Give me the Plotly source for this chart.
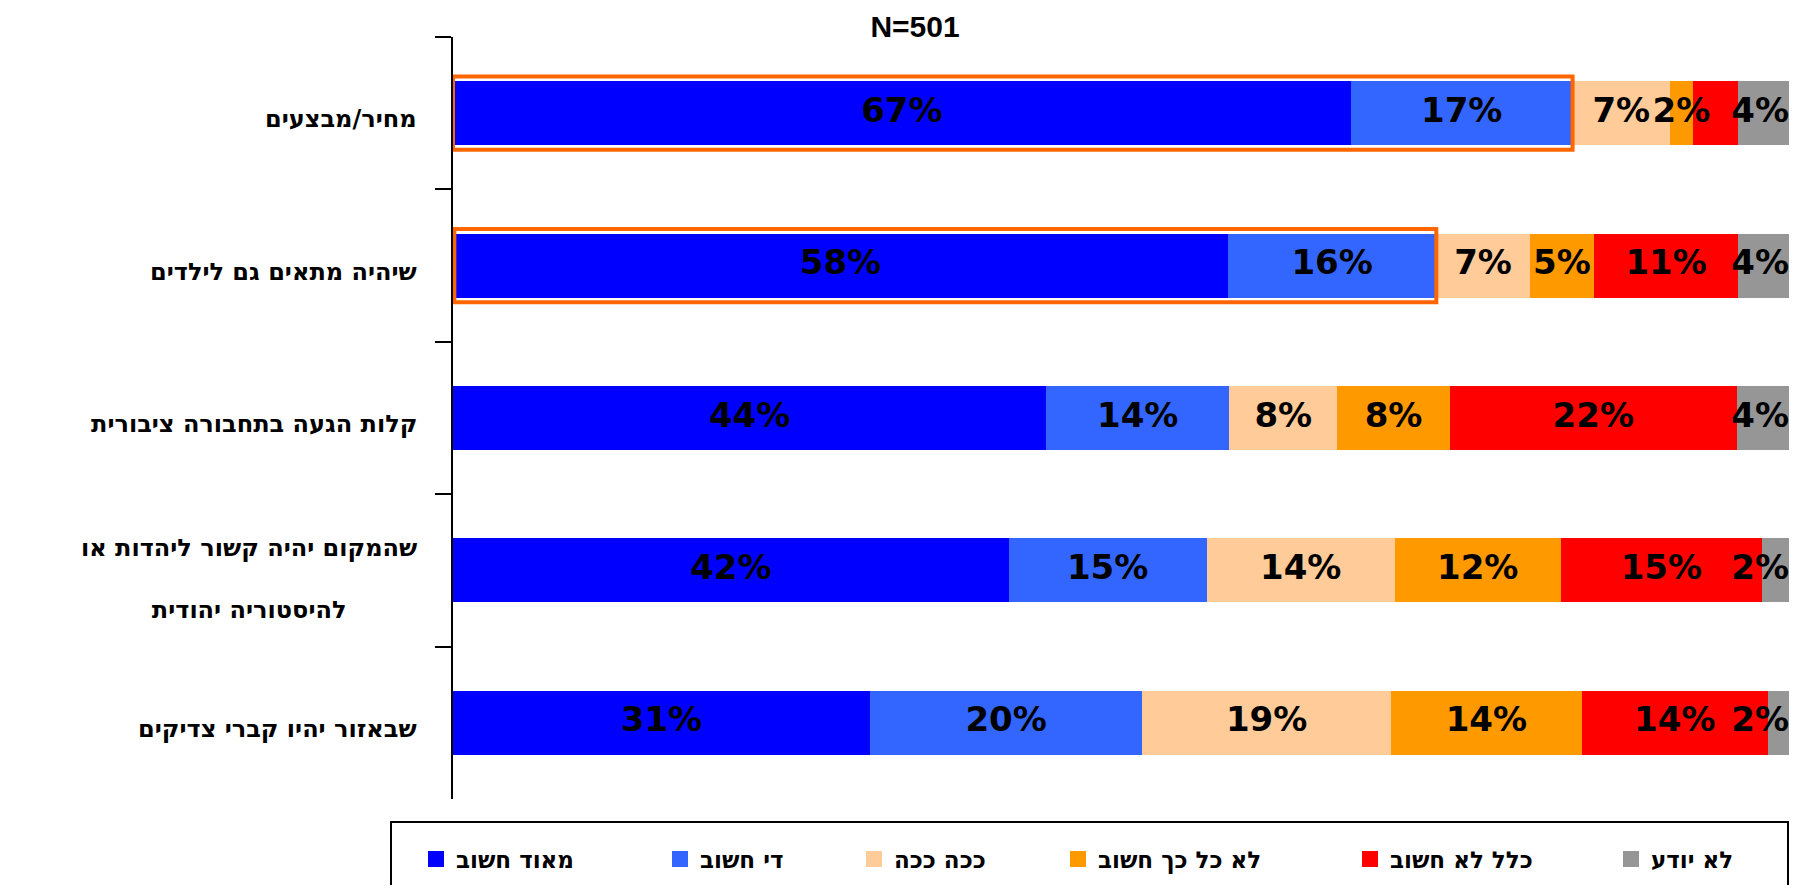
import plotly.graph_objects as go

# ---- data ----
categories = [
    "מחיר/מבצעים",
    "שיהיה מתאים גם לילדים",
    "קלות הגעה בתחבורה ציבורית",
    "שהמקום יהיה קשור ליהדות או להיסטוריה יהודית",
    "שבאזור יהיו קברי צדיקים",
]
category_labels = [
    "מחיר/מבצעים",
    "שיהיה מתאים גם לילדים",
    "קלות הגעה בתחבורה ציבורית",
    "שהמקום יהיה קשור ליהדות או<br><br>להיסטוריה יהודית",
    "שבאזור יהיו קברי צדיקים",
]
series_names = ["מאוד חשוב", "די חשוב", "ככה ככה", "לא כל כך חשוב", "כלל לא חשוב", "לא יודע"]
very_important = [67.2, 58.0, 44.4, 41.6, 31.2]
fairly_important = [16.6, 15.6, 13.7, 14.8, 20.4]
so_so = [7.3, 7.0, 8.1, 14.1, 18.6]
not_so_important = [1.7, 4.8, 8.4, 12.4, 14.3]
not_important_at_all = [3.4, 10.8, 21.5, 15.1, 13.9]
dont_know = [3.8, 3.8, 3.9, 2.0, 1.6]
series_values = [very_important, fairly_important, so_so, not_so_important,
                 not_important_at_all, dont_know]
hidden_labels = {(4, 0)}          # (series index, category index) label not shown
highlighted_rows = [0, 1]         # rows framed in orange (first two series)
title_text = "N=501"

# ---- style ----
colors = ["#0000FF", "#3366FF", "#FFCC99", "#FF9900", "#FF0000", "#969696"]
legend_widths = [199, 149, 159, 247, 216, 130]
OFF = 8                      # page body margin
W, H = 1798 - 2 * OFF, 893 - 2 * OFF
L, T = 453 - OFF, 37 - OFF
R = W - (1789 - OFF)
B = H - (799 - OFF)
pw, ph = W - L - R, H - T - B


def px_x(sx):   # screen x -> paper x
    return (sx - OFF - L) / pw


def px_y(sy):   # screen y -> paper y
    return 1 - (sy - OFF - T) / ph


label_font = dict(family="DejaVu Sans", size=34, color="black", weight="bold")
n_series = len(series_values)

fig = go.Figure()
for s, (name, vals) in enumerate(zip(series_names, series_values)):
    fig.add_trace(go.Bar(
        y=categories, x=vals, name=name, orientation="h",
        marker=dict(color=colors[s], line=dict(width=0)),
        showlegend=False, hoverinfo="skip",
    ))

# value labels: centred in each segment; last segment's label kept inside the bar end
for s, vals in enumerate(series_values):
    starts = [sum(series_values[k][c] for k in range(s)) for c in range(len(categories))]
    last = s == n_series - 1
    xs, ys, ts = [], [], []
    for c, v in enumerate(vals):
        if (s, c) in hidden_labels:
            continue
        xs.append(starts[c] + v if last else starts[c] + v / 2)
        ys.append(categories[c])
        ts.append(f"{round(v)}%")
    fig.add_trace(go.Scatter(x=xs, y=ys, text=ts, mode="text",
                             textposition="middle left" if last else "middle center",
                             textfont=label_font, showlegend=False, hoverinfo="skip",
                             cliponaxis=False))

# legend entries (square swatches)
for s, name in enumerate(series_names):
    fig.add_trace(go.Scatter(x=[None], y=[None], mode="markers", name=name,
                             marker=dict(symbol="square", size=16, color=colors[s]),
                             legendwidth=legend_widths[s], hoverinfo="skip"))

# orange frames around the "important" part of highlighted rows
for r in highlighted_rows:
    fig.add_shape(type="rect", xref="x", yref="y",
                  x0=0.1 * r, x1=series_values[0][r] + series_values[1][r],
                  y0=r - 0.24, y1=r + 0.24,
                  line=dict(color="#FF6600", width=4), layer="above")

# category labels (centred multi-line like the original)
for i, lab in enumerate(category_labels):
    fig.add_annotation(text=lab, xref="paper", yref="y", x=px_x(419), y=i,
                       xanchor="right", yanchor="middle", align="center", showarrow=False,
                       yshift=-9 if "<br>" in lab else -6,
                       font=dict(family="DejaVu Sans", size=24, color="black", weight="bold"))

# legend frame
fig.add_shape(type="rect", xref="paper", yref="paper",
              x0=px_x(391), x1=px_x(1788),
              y0=px_y(822), y1=px_y(905),
              line=dict(color="black", width=2), fillcolor="rgba(0,0,0,0)")

fig.update_layout(
    width=W, height=H,
    margin=dict(l=L, r=R, t=T, b=B, autoexpand=False),
    paper_bgcolor="white", plot_bgcolor="white",
    barmode="stack", bargap=0.58,
    title=dict(text=title_text, x=px_x(915), xref="paper", xanchor="center",
               y=1 - (26 - OFF) / H, yref="container", yanchor="middle",
               font=dict(family="Liberation Sans", size=30, color="black", weight="bold")),
    xaxis=dict(range=[0, 100], visible=False, fixedrange=True),
    yaxis=dict(autorange="reversed", showticklabels=False, ticks="outside",
               tickson="boundaries", ticklen=16, tickwidth=2, tickcolor="black",
               showline=True, linewidth=2, linecolor="black", showgrid=False),
    showlegend=True,
    legend=dict(orientation="h", traceorder="normal", x=px_x(416), xanchor="left",
                y=px_y(859), yanchor="middle", borderwidth=0,
                bgcolor="rgba(0,0,0,0)",
                font=dict(family="DejaVu Sans", size=23, color="black", weight="bold")),
)

fig.write_html("out.html")
